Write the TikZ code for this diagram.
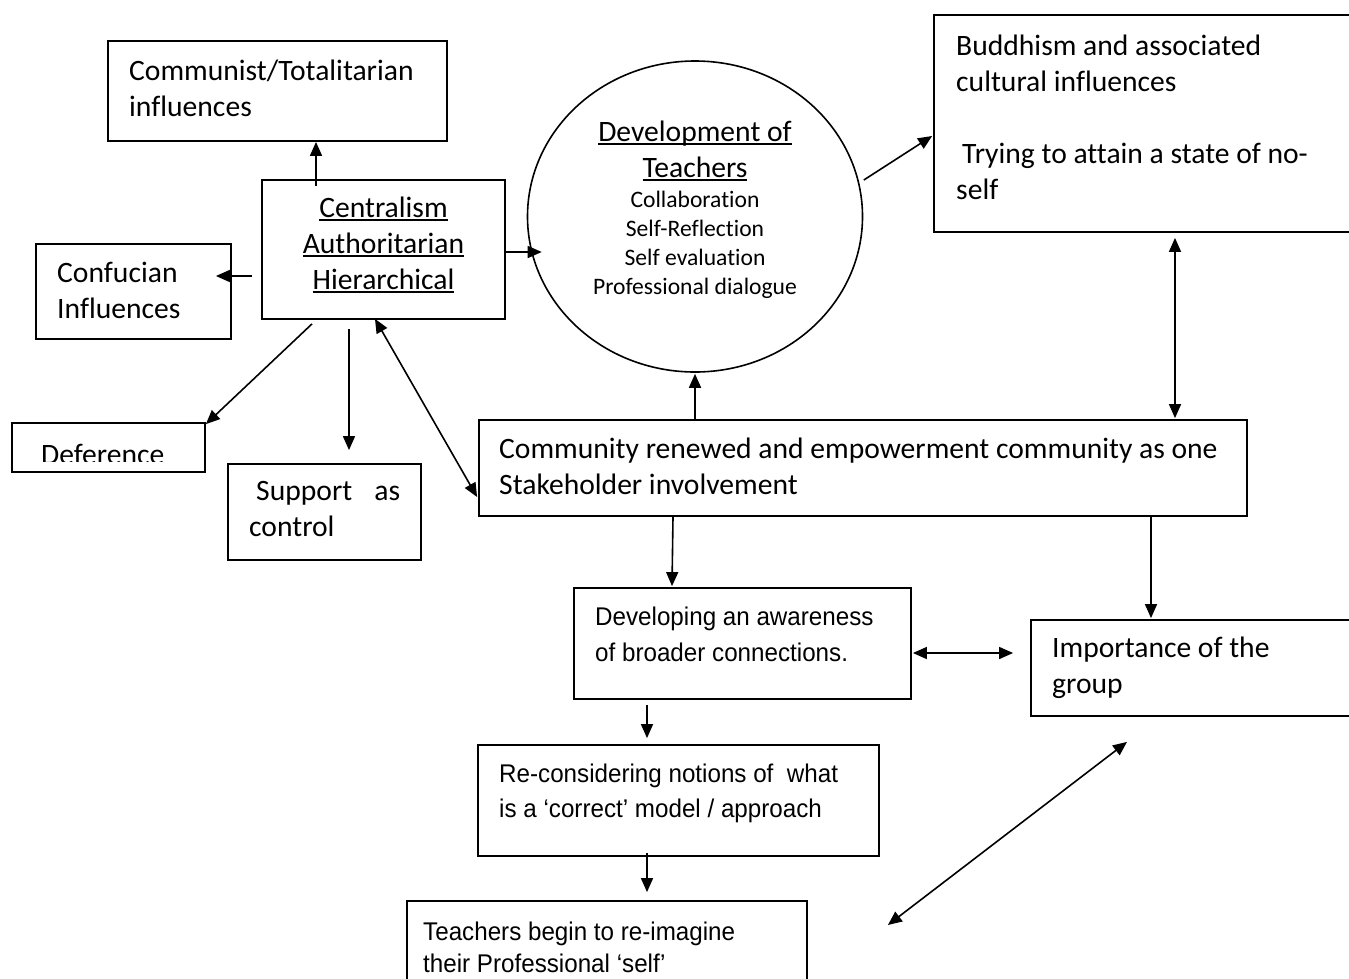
\documentclass[tikz,border=0pt]{standalone}
\usepackage{fontspec}
\setmainfont{Carlito}[Ligatures=NoCommon]
\newfontfamily\arialf{Liberation Sans}[FakeStretch=0.945]
\usetikzlibrary{arrows.meta,shapes.geometric}
\newcommand\lft[1]{\vtop{\halign{##\hfil\cr#1\crcr}}}
\newcommand\ctr[1]{\vtop{\halign{\hfil##\hfil\cr#1\crcr}}}
\newcommand\ulx[1]{\setbox0\hbox{#1}\rlap{\rule[-3.5pt]{\wd0}{1.8pt}}\box0}
\tikzset{
  box/.style={draw, line width=1.8pt, rectangle, inner sep=0pt},
  txt/.style={inner sep=0pt, anchor=base west, font=\fontsize{29.6}{36}\selectfont},
  atxt/.style={inner sep=0pt, anchor=base west, font=\arialf\fontsize{25.6}{36}\selectfont},
  arr/.style={line width=1.6pt, -{Triangle[length=14pt,width=12pt]}},
  darr/.style={line width=1.6pt, {Triangle[length=14pt,width=12pt]}-{Triangle[length=14pt,width=12pt]}}
}
\begin{document}
\begin{tikzpicture}[x=1pt,y=-1pt]
\useasboundingbox (0,0) rectangle (1349,978);
\clip (0,0) rectangle (1349,978);
% boxes
\node[box, minimum width=339, minimum height=100] (commu) at (277.5,91) {};
\node[box, minimum width=243, minimum height=139] (cent) at (383.5,249.5) {};
\node[box, minimum width=195, minimum height=95] (conf) at (133.5,291.5) {};
\node[box, minimum width=193, minimum height=49] (defer) at (108.5,447.5) {};
\node[box, minimum width=193, minimum height=96] (supp) at (324.5,512) {};
\node[draw, line width=1.6pt, ellipse, inner sep=0pt, minimum width=335, minimum height=311] (dev) at (695,216.5) {};
\node[box, minimum width=466, minimum height=217] (budd) at (1167,123.5) {};
\node[box, minimum width=768, minimum height=96] (comm) at (863,468) {};
\node[box, minimum width=337, minimum height=111] (devl) at (742.5,643.5) {};
\node[box, minimum width=369, minimum height=96] (imp) at (1215.5,668) {};
\node[box, minimum width=401, minimum height=111] (recon) at (678.5,800.5) {};
\node[box, minimum width=400, minimum height=109] (teach) at (607,955.5) {};
% texts
\node[txt] (tcommu) at (129,80) {\lft{Communist/Totalitarian\cr influences}};
\node[txt, anchor=base] (tcent) at (383.5,217) {\ctr{\ulx{Centralism}\cr \ulx{Authoritarian}\cr \ulx{Hierarchical}}};
\node[txt] (tconf) at (57,282) {\lft{Confucian\cr Influences}};
\begin{scope}
\clip (0,0) rectangle (1349,461);
\node[txt] (tdefer) at (41,464) {Deference};
\end{scope}
\node[txt] (tsupp) at (249,500) {\lft{\hbox to 151pt{\hskip7pt Support\hfil as}\cr control}};
\node[txt, anchor=base] (tdev) at (695,141) {\ctr{\ulx{Development of}\cr \ulx{Teachers}}};
\node[inner sep=0pt, anchor=base, font=\fontsize{23.6}{29}\selectfont] (tdev2) at (695,207) {\ctr{Collaboration\cr Self-Reflection\cr Self evaluation\cr Professional dialogue}};
\node[txt] (tbudd) at (956,55) {\lft{Buddhism and associated\cr cultural influences\cr \strut\cr \hskip6pt Trying to attain a state of no-\cr self}};
\node[txt] (tcomm) at (499,458) {\lft{Community renewed and empowerment community as one\cr Stakeholder involvement}};
\node[atxt] (tdevl) at (595,625) {\lft{Developing an awareness\cr of broader connections.}};
\node[txt] (timp) at (1052,657) {\lft{Importance of the\cr group}};
\node[atxt, font=\arialf\fontsize{25.6}{35}\selectfont] (trecon) at (499,782) {\lft{Re-considering notions of\ \ what\cr is a ‘correct’ model / approach}};
\node[atxt, font=\arialf\fontsize{25.6}{32}\selectfont] (tteach) at (423,940) {\lft{Teachers begin to re-imagine\cr their Professional ‘self’}};
% connectors
\draw[arr] ([shift={(-67.5,7)}]cent.north) -- ([shift={(38.5,0)}]commu.south);
\draw[arr] ([shift={(-9,26.5)}]cent.west) -- ([shift={(-16,-15.5)}]conf.east);
\draw[arr] ([shift={(-2,2.5)}]cent.east) -- ([shift={(15,35.5)}]dev.west);
\draw[arr] ([shift={(-71.5,4)}]cent.south) -- ([shift={(0,2)}]defer.north east);
\draw[arr] ([shift={(-34.5,9)}]cent.south) -- ([shift={(24.5,-13)}]supp.north);
\draw[darr] ([shift={(-8.5,-1)}]cent.south) -- ([shift={(-1,29)}]comm.west);
\draw[arr] ([shift={(-168,0)}]comm.north) -- ([shift={(0,1)}]dev.south);
\draw[arr] ([shift={(0.5,-36.5)}]dev.east) -- ([shift={(-1,12.5)}]budd.west);
\draw[darr] ([shift={(8,5)}]budd.south) -- ([shift={(312,-1)}]comm.north);
\draw[arr] ([shift={(-190,0)}]comm.south) -- ([shift={(-70.5,-1)}]devl.north);
\draw[arr] ([shift={(288,0)}]comm.south) -- ([shift={(-64.5,-1)}]imp.north);
\draw[darr] ([shift={(1,9.5)}]devl.east) -- ([shift={(-17,-15)}]imp.west);
\draw[arr] ([shift={(-95.5,5)}]devl.south) -- ([shift={(-31.5,-6)}]recon.north);
\draw[arr] ([shift={(-31.5,-4)}]recon.south) -- ([shift={(40,-8)}]teach.north);
\draw[darr] ([shift={(-88.5,25)}]imp.south) -- ([shift={(80,-30.5)}]teach.east);
\end{tikzpicture}
\end{document}
